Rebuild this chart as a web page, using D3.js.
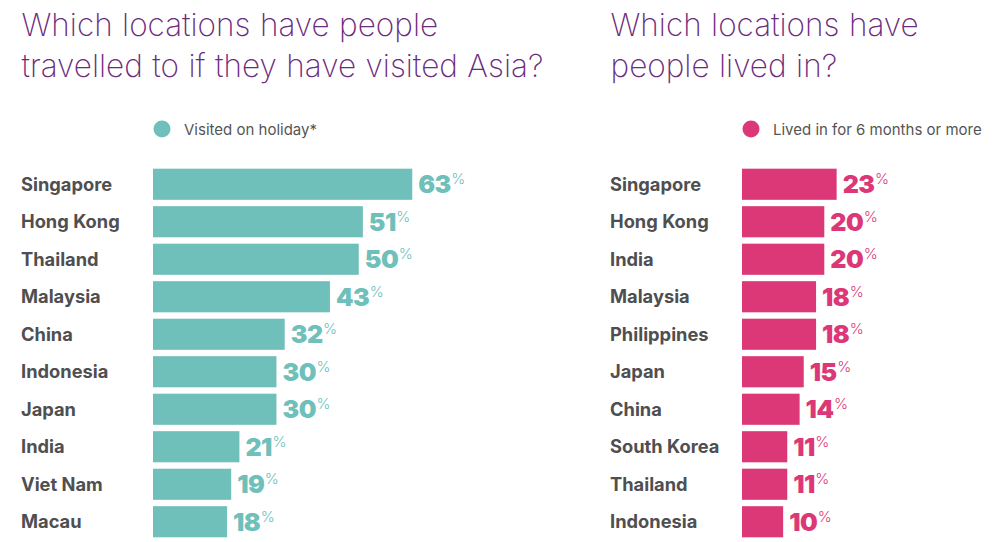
<!DOCTYPE html>
<html><head><meta charset="utf-8">
<script src="https://cdn.jsdelivr.net/npm/d3@7"></script>
<style>
html,body{margin:0;padding:0;background:#fff;}
svg{display:block;}
</style></head>
<body>
<svg id="c" width="998" height="542"></svg>
<script>
const leftTitle = ["Which locations have people", "travelled to if they have visited Asia?"];
const leftLegend = "Visited on holiday*";
const leftCategories = ["Singapore","Hong Kong","Thailand","Malaysia","China","Indonesia","Japan","India","Viet Nam","Macau"];
const leftValues = [63,51,50,43,32,30,30,21,19,18];

const rightTitle = ["Which locations have", "people lived in?"];
const rightLegend = "Lived in for 6 months or more";
const rightCategories = ["Singapore","Hong Kong","India","Malaysia","Philippines","Japan","China","South Korea","Thailand","Indonesia"];
const rightValues = [23,20,20,18,18,15,14,11,11,10];

const svg = d3.select("#c");
const FONT = "Inter, 'Noto Sans', sans-serif";

function panel(x0, titleLines, legend, cats, vals, color, valColor) {
  const g = svg.append("g");
  g.selectAll("text.title").data(titleLines).join("text")
    .attr("x", x0 + 0.5).attr("y", (d,i) => 36 + i*41)
    .attr("font-family", FONT).attr("font-weight", 250)
    .attr("font-size", 31.5).attr("fill", "#6c2b7d")
    .attr("word-spacing", 0.6)
    .text(d => d);

  const barX = x0 + 132;
  const x = d3.scaleLinear().domain([0, 100]).range([barX, barX + 411.5]);
  const y = d3.scaleBand().domain(cats).range([165.5, 540.5]).paddingInner(0.17).paddingOuter(0.085);

  g.append("circle").attr("cx", barX + 9).attr("cy", 129).attr("r", 8.5).attr("fill", color);
  g.append("text").attr("x", barX + 31).attr("y", 134.5)
    .attr("font-family", FONT).attr("font-size", 15).attr("fill", "#555")
    .text(legend);

  const data = cats.map((c,i) => ({c, v: vals[i]}));
  g.selectAll("text.lab").data(data).join("text")
    .attr("x", x0).attr("y", d => y(d.c) + y.bandwidth()/2 + 6.5)
    .attr("font-family", FONT).attr("font-weight", 700).attr("font-size", 18.3)
    .attr("fill", "#4f4f51")
    .text(d => d.c);

  g.selectAll("rect").data(data).join("rect")
    .attr("x", x(0)).attr("y", d => y(d.c))
    .attr("width", d => x(d.v) - x(0)).attr("height", y.bandwidth())
    .attr("fill", color);

  const vt = g.selectAll("text.val").data(data).join("text")
    .attr("x", d => x(d.v) + 6).attr("y", d => y(d.c) + y.bandwidth()/2 + 9)
    .attr("font-family", FONT).attr("fill", valColor);
  vt.append("tspan").attr("font-weight", 900).attr("font-size", 25).attr("letter-spacing", -0.5).text(d => d.v);
  vt.append("tspan").attr("font-weight", 300).attr("font-size", 15).attr("dy", -9).attr("dx", 0.5).text("%");
}

panel(21, leftTitle, leftLegend, leftCategories, leftValues, "#6fbfba", "#6fbfba");
panel(610, rightTitle, rightLegend, rightCategories, rightValues, "#dc3877", "#dc3877");
</script>
</body></html>
